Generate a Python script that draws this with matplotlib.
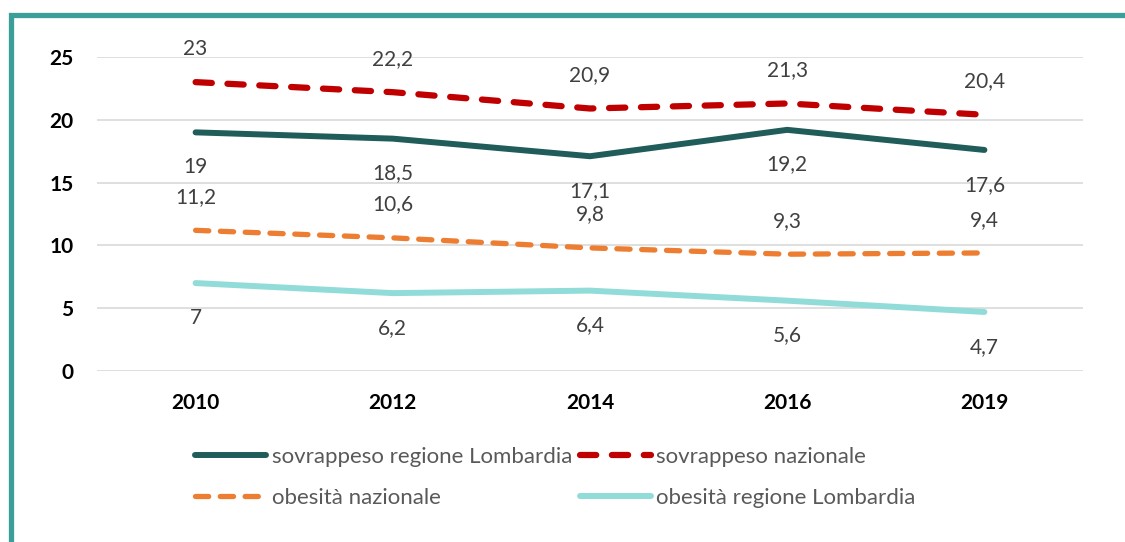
import matplotlib
matplotlib.use("Agg")
import matplotlib.pyplot as plt
from matplotlib.patches import Rectangle

# dati
anni = ["2010", "2012", "2014", "2016", "2019"]
sovrappeso_lombardia = [19, 18.5, 17.1, 19.2, 17.6]
sovrappeso_nazionale = [23, 22.2, 20.9, 21.3, 20.4]
obesita_nazionale = [11.2, 10.6, 9.8, 9.3, 9.4]
obesita_lombardia = [7, 6.2, 6.4, 5.6, 4.7]

plt.rcParams['font.family'] = ['Lato', 'DejaVu Sans']

fig = plt.figure(figsize=(11.25, 5.42), dpi=100)
ax = fig.add_axes([97/1125, 171/542, 986/1125, 314/542])

x = list(range(len(anni)))

l1, = ax.plot(x, sovrappeso_lombardia, color="#1F5C5A", lw=4.3,
              solid_capstyle="round", label="sovrappeso regione Lombardia", zorder=3)
l2, = ax.plot(x, sovrappeso_nazionale, color="#C00000", lw=4.5,
              dashes=(2.6, 2.5), dash_capstyle="round", label="sovrappeso nazionale", zorder=3)
l3, = ax.plot(x, obesita_nazionale, color="#ED7D31", lw=3.8,
              dashes=(2.5, 2.2), dash_capstyle="round", label="obesità nazionale", zorder=3)
l4, = ax.plot(x, obesita_lombardia, color="#91DCD9", lw=4.3,
              solid_capstyle="round", label="obesità regione Lombardia", zorder=3)

def fmt(v):
    return ("%g" % v).replace(".", ",")

# etichette dati: sopra per le linee nazionali, sotto per la Lombardia
for serie, off in [(sovrappeso_lombardia, -25), (sovrappeso_nazionale, 24),
                   (obesita_nazionale, 24), (obesita_lombardia, -25)]:
    for xi, v in zip(x, serie):
        ax.annotate(fmt(v), (xi, v), xytext=(0, off), textcoords="offset points",
                    ha="center", va="center", fontsize=15, color="#404040")

ax.set_xlim(-0.5, 4.5)
ax.set_ylim(0, 25)
ax.set_yticks([0, 5, 10, 15, 20, 25])
ax.set_xticks(x)
ax.set_xticklabels(anni)
ax.tick_params(axis="both", length=0, labelsize=15)
ax.tick_params(axis="y", pad=17)
ax.tick_params(axis="x", pad=16)
for lab in ax.get_xticklabels() + ax.get_yticklabels():
    lab.set_fontweight("bold")
ax.grid(axis="y", color="#D9D9D9", lw=1.2)
ax.set_axisbelow(True)
for s in ax.spines.values():
    s.set_visible(False)

leg = fig.legend(handles=[l1, l3, l2, l4], ncol=2, loc="upper left",
                 bbox_to_anchor=(186/1125, 1 - 438/542), frameon=False,
                 fontsize=16, handlelength=3.2, handletextpad=0.25,
                 columnspacing=0.35, labelspacing=0.95, labelcolor="#595959",
                 borderaxespad=0)

# cornice
fig.patches.append(Rectangle((10.5/1125, -0.1), 1.2, 1 - 14.5/542 + 0.1,
                             transform=fig.transFigure, fill=False,
                             edgecolor="#3A9E99", lw=3.8, zorder=0))

fig.savefig("out.png", dpi=100)
